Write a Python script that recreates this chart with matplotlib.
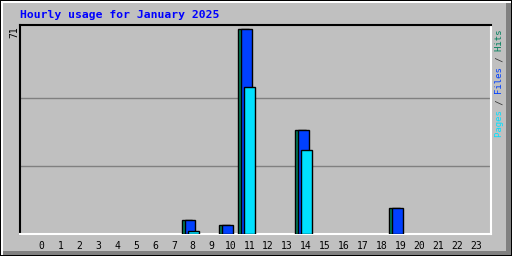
import matplotlib
matplotlib.use("Agg")
import matplotlib.pyplot as plt
from matplotlib.patches import Rectangle
import numpy as np

hours = list(range(24))
hits  = [0,0,0,0,0,0,0,0,5,0,3,71,0,0,36,0,0,0,0,9,0,0,0,0]
files = [0,0,0,0,0,0,0,0,5,0,3,71,0,0,36,0,0,0,0,9,0,0,0,0]
pages = [0,0,0,0,0,0,0,0,1,0,0,51,0,0,29,0,0,0,0,0,0,0,0,0]
title = "Hourly usage for January 2025"
max_label = "71"

BG = "#C0C0C0"
C_HITS, C_FILES, C_PAGES = "#00805C", "#0040FF", "#00E0FF"
W, H = 512, 256

fig = plt.figure(figsize=(W/100, H/100), dpi=100, facecolor=BG)
ax = fig.add_axes([20/W, (H-234)/H, 471/W, 209/H], facecolor=BG)

x = np.array(hours, dtype=float)
ymax = max(hits)
bw = 0.58
for vals, off, col in ((hits, -0.3, C_HITS), (files, -0.14, C_FILES), (pages, 0.02, C_PAGES)):
    v = np.array(vals, dtype=float)
    m = v > 0
    ax.bar(x[m] + off, v[m], width=bw, color=col, edgecolor="black", linewidth=1.0, zorder=3)

ax.set_xlim(-1.15, 23.81)
ax.set_ylim(0, ymax * 209 / 204.7)
for g in (ymax / 3, ymax * 2 / 3):
    ax.axhline(g, color="#808080", linewidth=1.0, zorder=1)

ax.set_xticks(hours)
ax.set_xticklabels([str(h) for h in hours], family="DejaVu Sans Mono", fontsize=7.0, color="black")
ax.tick_params(axis="x", length=0, pad=5)
ax.set_yticks([])
for s in ("top", "left"):
    ax.spines[s].set_color("black")
for s in ("bottom", "right"):
    ax.spines[s].set_color("white")
for s in ax.spines.values():
    s.set_linewidth(1.5)

# title
fig.text(20/W, 1 - 15/H, title, family="DejaVu Sans Mono", fontweight="bold",
         fontsize=8.2, color="#0000FF", ha="left", va="center")
# max label
fig.text(14/W, 1 - 32/H, max_label, family="DejaVu Sans Mono", fontsize=7.0,
         rotation=90, ha="center", va="center", color="black")

# right-side legend
full = "Pages / Files / Hits"
def mask(keep):
    return "".join(ch if i in keep else " " for i, ch in enumerate(full))
pieces = [
    (set(range(0, 5)), C_PAGES),
    (set(range(8, 13)), C_FILES),
    (set(range(16, 20)), C_HITS),
    ({6, 14}, "#303030"),
]
for keep, col in pieces:
    fig.text(500/W, 1 - 137/H, mask(keep), family="DejaVu Sans Mono", fontsize=6.5,
             rotation=90, rotation_mode="anchor", ha="left", va="center", color=col)

# 3D outer border (pixel rectangles in figure coordinates)
def prect(x0, y0, w, h, col):
    fig.add_artist(Rectangle((x0/W, 1 - (y0 + h)/H), w/W, h/H, transform=fig.transFigure,
                             facecolor=col, edgecolor="none", linewidth=0))
prect(0, 0, W, 1, "black")
prect(0, 0, 1, H, "black")
prect(1, 1, W - 2, 2, "white")
prect(1, 1, 2, H - 2, "white")
prect(W - 6, 3, 5, H - 4, "#808080")
prect(3, H - 5, W - 4, 4, "#808080")
prect(W - 1, 0, 1, H, "black")
prect(0, H - 1, W, 1, "black")

fig.savefig("out.png", dpi=100, facecolor=BG)
